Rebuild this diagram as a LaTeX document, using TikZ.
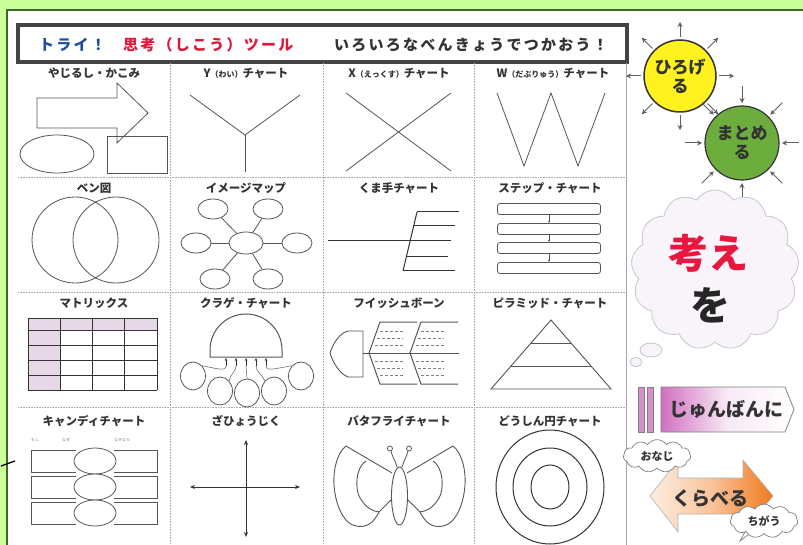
\documentclass[tikz,border=0pt]{standalone}
\usepackage{fontspec}
\usetikzlibrary{shapes.symbols,shapes.geometric,arrows.meta,calc}
\newfontfamily\jp{Noto Sans CJK JP}
\newcommand\jpf[1]{\jp\bfseries\fontsize{#1}{#1}\selectfont}
\definecolor{bggreen}{HTML}{CCFF99}
\definecolor{edgegreen}{HTML}{3A6A2A}
\definecolor{hdrgray}{HTML}{444444}
\definecolor{trycol}{HTML}{1F4E9A}
\definecolor{toolcol}{HTML}{E0163A}
\definecolor{labelgray}{HTML}{333333}
\definecolor{linegray}{HTML}{555555}
\definecolor{gridgray}{HTML}{AAAAAA}
\definecolor{shadecol}{HTML}{E6D8E6}
\definecolor{sunyellow}{HTML}{FFF21E}
\definecolor{leafgreen}{HTML}{6DAD3E}
\definecolor{thinkred}{HTML}{E8173F}
\definecolor{cloudfill}{HTML}{F8F4FA}
\definecolor{cloudline}{HTML}{C8C4D0}
\definecolor{orderpink}{HTML}{D070C0}
\definecolor{cmporange}{HTML}{F07A1E}
\definecolor{cmplight}{HTML}{FDEEE2}
\begin{document}
\begin{tikzpicture}[x=1pt,y=-1pt,
  lbl/.style={font=\jpf{11.5}, text=labelgray, inner sep=0pt},
  shp/.style={draw=linegray, line width=0.8pt},
  gridline/.style={draw=gridgray, line width=0.6pt, densely dotted},
  mapnode/.style={shp, ellipse, fill=white, minimum width=30pt, minimum height=20pt, inner sep=0pt},
  stepbox/.style={shp, rounded corners=2.5pt, minimum width=103pt, minimum height=11pt, inner sep=0pt},
  jelly/.style={shp, ellipse, fill=white, minimum width=25pt, minimum height=28pt, inner sep=0pt},
  tinytxt/.style={font=\jp\fontsize{4}{4}\selectfont, text=gray, inner sep=0pt},
  smallarrow/.style={draw=gray!75!black, line width=1pt, -{Stealth[length=5pt,width=5pt]}},
  bubble/.style={cloud, cloud puffs=11, cloud puff arc=110, cloud ignores aspect, draw=gray, fill=white,
    line width=0.7pt, inner xsep=7pt, inner ysep=3.5pt, font=\jpf{11}, text=labelgray},
]
\useasboundingbox (0,0) rectangle (803,545);

% page background and frame
\fill[bggreen] (0,0) rectangle (803,545);
\fill[white] (7,10) rectangle (803,545);
\draw[edgegreen, line width=1.2pt] (7,545) -- (7,10) -- (803,10);
\draw[black, line width=1.3pt] (1,466) -- (15,461);

% title bar
\node[draw=hdrgray, line width=3.5pt, minimum width=609pt, minimum height=37pt, inner sep=0pt] (title) at (322.5,43.5) {};
\newcommand\hdr{\jpf{15}\addfontfeature{LetterSpace=15}}
\node[anchor=west, text=trycol, inner sep=0pt] (try) at (39,44.5) {\hdr トライ！};
\node[anchor=west, text=toolcol, inner sep=0pt] (tool) at (123,44.5) {\hdr 思考（しこう）ツール};
\node[anchor=west, text=labelgray, inner sep=0pt] (use) at (334,44.5) {\hdr いろいろなべんきょうでつかおう！};

% grid of cells
\foreach \x in {170,323,474} \draw[gridline] (\x,63) -- (\x,545);
\foreach \y in {177,292,407} \draw[gridline] (18,\y) -- (626,\y);
\draw[gray!70, line width=1pt] (626,63) -- (626,545);

% cell titles
\newcommand\sm[1]{{\fontsize{8}{8}\selectfont #1}}
\node[lbl] (t11) at (94,73) {やじるし・かこみ};
\node[lbl] (t12) at (246,73) {Y\sm{（わい）}チャート};
\node[lbl] (t13) at (399,73) {X\sm{（えっくす）}チャート};
\node[lbl] (t14) at (553,73) {W\sm{（だぶりゅう）}チャート};
\node[lbl] (t21) at (94,188) {ベン図};
\node[lbl] (t22) at (246,188) {イメージマップ};
\node[lbl] (t23) at (399,188) {くま手チャート};
\node[lbl] (t24) at (550,188) {ステップ・チャート};
\node[lbl] (t31) at (94,303) {マトリックス};
\node[lbl] (t32) at (246,303) {クラゲ・チャート};
\node[lbl] (t33) at (399,303) {フイッシュボーン};
\node[lbl] (t34) at (550,303) {ピラミッド・チャート};
\node[lbl] (t41) at (94,421) {キャンディチャート};
\node[lbl] (t42) at (246,421) {ざひょうじく};
\node[lbl] (t43) at (399,421) {バタフライチャート};
\node[lbl] (t44) at (550,421) {どうしん円チャート};

% arrow and frames
\draw[shp] (37,98) -- (117,98) -- (117,83) -- (148,113) -- (117,143) -- (117,128) -- (37,128) -- cycle;
\draw[shp] (57,154) ellipse [x radius=37, y radius=19];
\draw[shp] (107,136) rectangle (167,173);

% Y chart
\coordinate (yc) at (245,135);
\draw[shp] (190,95) -- (yc) -- (300,95);
\draw[shp] (yc) -- (245,172);

% X chart
\draw[shp] (346,93) -- (451,171);
\draw[shp] (451,93) -- (346,171);

% W chart
\draw[shp] (497,93) -- (524,166) -- (551,93) -- (578,166) -- (605,93);

% Venn diagram
\draw[shp] (75,240) circle [radius=43];
\draw[shp] (116,240) circle [radius=43];

% image map
\node[mapnode, minimum width=34pt, minimum height=22pt] (im0) at (246,243) {};
\node[mapnode] (im1) at (213,209) {};
\node[mapnode] (im2) at (268,209) {};
\node[mapnode] (im3) at (196,243) {};
\node[mapnode] (im4) at (297,243) {};
\node[mapnode] (im5) at (215,279) {};
\node[mapnode] (im6) at (268,279) {};
\foreach \i in {1,...,6} \draw[shp] (im0) -- (im\i);

% rake chart
\draw[line width=1pt, draw=labelgray] (417,212) -- (403,271);
\draw[line width=1pt, draw=labelgray] (417,212) -- (459,212);
\draw[line width=1pt, draw=labelgray] (414,226) -- (455,226);
\draw[line width=1pt, draw=labelgray] (328,241) -- (451,241);
\draw[line width=1pt, draw=labelgray] (406,257) -- (448,257);
\draw[line width=1pt, draw=labelgray] (403,271) -- (455,271);

% step chart
\foreach \y [count=\i] in {209,229,248,268} \node[stepbox] (st\i) at (549,\y) {};
\foreach \i/\j in {1/2,2/3,3/4}
  \draw[draw=linegray, line width=0.5pt, -{Stealth[length=2.5pt,width=2pt]}] (st\i.south) -- (st\j.north);

% matrix
\fill[shadecol] (28,318) rectangle (157,330);
\fill[shadecol] (28,318) rectangle (60,390);
\foreach \x in {28,60,92,124,157} \draw[line width=0.8pt, draw=labelgray] (\x,318) -- (\x,390);
\foreach \y in {318,330,345,360,375,390} \draw[line width=0.8pt, draw=labelgray] (28,\y) -- (157,\y);

% jellyfish chart
\draw[shp, line width=1pt] (210,350) arc[start angle=180, end angle=360, radius=36] -- (282,357) -- (210,357) -- cycle;
\foreach \x [count=\i] in {226,236,246,256,266} {
  \coordinate (ja\i) at (\x,366);
  \draw[draw=labelgray, line width=0.6pt, -{Stealth[length=3pt,width=2.5pt]}] (ja\i) -- (\x,358);
}
\node[jelly] (jc1) at (193,376) {};
\node[jelly] (jc2) at (220,391) {};
\node[jelly] (jc3) at (247,393) {};
\node[jelly] (jc4) at (274,391) {};
\node[jelly] (jc5) at (301,376) {};
\draw[gray, line width=0.7pt] (ja1) .. controls (226,372) and (215,368) .. (jc1.north east);
\draw[gray, line width=0.7pt] (ja2) .. controls (236,372) and (230,374) .. (jc2.north east);
\draw[gray, line width=0.7pt] (ja3) -- (jc3.north);
\draw[gray, line width=0.7pt] (ja4) .. controls (256,372) and (262,374) .. (jc4.north west);
\draw[gray, line width=0.7pt] (ja5) .. controls (266,372) and (277,368) .. (jc5.north west);

% fishbone
\draw[shp, line width=0.9pt] (363,331) -- (348,331) .. controls (340,333) and (333,343) .. (330,353)
  .. controls (333,363) and (340,374) .. (348,377) -- (363,377) -- cycle;
\draw[shp, line width=1pt] (363,353) -- (459,353);
\draw[shp, line width=1pt] (417,322) -- (380,322) -- (369,353) -- (380,384) -- (417,384);
\draw[shp, line width=1pt] (458,322) -- (421,322) -- (410,353) -- (421,384) -- (458,384);
\foreach \dx/\ex in {0/403,41/444} {
  \foreach \y in {331,338,345} \draw[gray, line width=0.5pt, densely dashed] ({380+\dx-11*(\y-322)/31+3},\y) -- (\ex,\y);
  \foreach \y in {361,368,375} \draw[gray, line width=0.5pt, densely dashed] ({369+\dx+11*(\y-353)/31+3},\y) -- (\ex,\y);
}

% pyramid
\draw[shp, line width=0.9pt] (551,320) -- (611,389) -- (491,389) -- cycle;
\draw[shp, line width=0.9pt] (531,343) -- (571,343);
\draw[shp, line width=0.9pt] (511,366) -- (591,366);

% candy chart
\foreach \y in {461,487,513} {
  \draw[shp] (76,\y-11) -- (31,\y-11) -- (31,\y+11) -- (76,\y+11);
  \draw[shp] (114,\y-11) -- (157,\y-11) -- (157,\y+11) -- (114,\y+11);
  \draw[shp, fill=white] (95,\y) ellipse [x radius=21, y radius=13];
}
\node[tinytxt] (cw1) at (35,440) {もし};
\node[tinytxt] (cw2) at (66,440) {なぜ};
\node[tinytxt] (cw3) at (122,440) {なぜなら};

% coordinate axes
\coordinate (ax1) at (246,440);
\coordinate (ax2) at (246,537);
\coordinate (ax3) at (190,487);
\coordinate (ax4) at (300,487);
\draw[draw=labelgray, line width=1pt, {Stealth[length=5pt,width=4pt]}-{Stealth[length=5pt,width=4pt]}] (ax1) -- (ax2);
\draw[draw=labelgray, line width=1pt, {Stealth[length=5pt,width=4pt]}-{Stealth[length=5pt,width=4pt]}] (ax3) -- (ax4);

% butterfly: left half, then its mirror image
\foreach \m in {1,-1} {
  \begin{scope}[xshift={(1-\m)*399.5pt}, xscale=\m]
    \draw[shp, line width=0.9pt] (392,473) -- (346,446) .. controls (338,452) and (333,468) .. (334,485)
      .. controls (335,500) and (340,515) .. (348,522) .. controls (355,528) and (366,528) .. (372,522)
      .. controls (376,518) and (378,514) .. (379,512) -- (392,499);
    \draw[shp, line width=0.9pt] (366,461) .. controls (355,468) and (355,490) .. (360,498)
      .. controls (366,508) and (372,511) .. (379,512);
    \draw[shp, line width=0.8pt] (397,467) .. controls (395,460) and (392,456) .. (391,451);
    \draw[shp, line width=0.8pt] (390,448.5) circle [radius=2.5];
  \end{scope}
}
\draw[shp, line width=0.9pt, fill=white] (399.5,496) ellipse [x radius=8, y radius=29];

% concentric circles
\draw[draw=labelgray, line width=1pt] (550,487) ellipse [x radius=54, y radius=57];
\draw[draw=labelgray, line width=1pt] (550,487) ellipse [x radius=37, y radius=39];
\draw[draw=labelgray, line width=1pt] (550,487) ellipse [x radius=19, y radius=22];

% spread out
\node[circle, draw=labelgray, line width=1.5pt, fill=sunyellow, minimum size=72pt, inner sep=0pt,
  font=\jp\bfseries\fontsize{17}{19}\selectfont, text=labelgray, align=center] (spread) at (680,76) {ひろげ\\る};
\foreach \a in {0,45,...,315}
  \draw[smallarrow] ($(spread.center)+(\a:39)$) -- ($(spread.center)+(\a:54)$);

% gather up
\node[circle, draw=labelgray, line width=1.2pt, fill=leafgreen, minimum size=74pt, inner sep=0pt,
  font=\jp\bfseries\fontsize{17}{19}\selectfont, text=labelgray, align=center] (gather) at (742,143) {まとめ\\る};
\foreach \a in {0,45,...,315}
  \draw[smallarrow] ($(gather.center)+(\a:57)$) -- ($(gather.center)+(\a:40)$);

% thought cloud
\node[cloud, cloud puffs=13, cloud puff arc=115, aspect=1.05, draw=cloudline, fill=cloudfill,
  line width=0.8pt, minimum width=168pt, minimum height=160pt, inner sep=0pt] (think) at (715,270) {};
\draw[draw=cloudline, fill=cloudfill, line width=0.8pt] (651,350) ellipse [x radius=11, y radius=7];
\draw[draw=cloudline, fill=cloudfill, line width=0.8pt] (636,362) ellipse [x radius=6, y radius=4.5];
\node[font=\jpf{40}, text=thinkred, inner sep=0pt] (kangae) at (708,253) {考え};
\node[font=\jpf{40}, text=black!85, inner sep=0pt] (wo) at (710,305) {を};

% in order
\draw[draw=gray, line width=0.7pt, fill=orderpink!80] (638,387) rectangle (644,432);
\draw[draw=gray, line width=0.7pt, fill=orderpink!80] (647,387) rectangle (653,432);
\draw[draw=gray, line width=0.8pt, left color=orderpink, right color=white, middle color=orderpink!15]
  (661,387) -- (785,387) -- (794,409.5) -- (785,432) -- (661,432) -- cycle;
\node[font=\jpf{19}, text=labelgray, inner sep=0pt] (order) at (726,409.5) {じゅんばんに};

% compare
\draw[draw=gray!60, line width=0.6pt, left color=cmplight, right color=cmporange, middle color=cmporange!45]
  (650,496) -- (678,460) -- (678,478) -- (743,478) -- (743,460) -- (773,496) -- (743,532) -- (743,514)
  -- (678,514) -- (678,532) -- cycle;
\node[font=\jpf{19}, text=labelgray, inner sep=0pt] (compare) at (710,498) {くらべる};
\node[bubble] (same) at (657,456) {おなじ};
\draw[draw=gray, line width=0.7pt, fill=white] (746,530) -- (740,541) -- (753,531);
\node[bubble] (diff) at (764,521) {ちがう};
\end{tikzpicture}
\end{document}
